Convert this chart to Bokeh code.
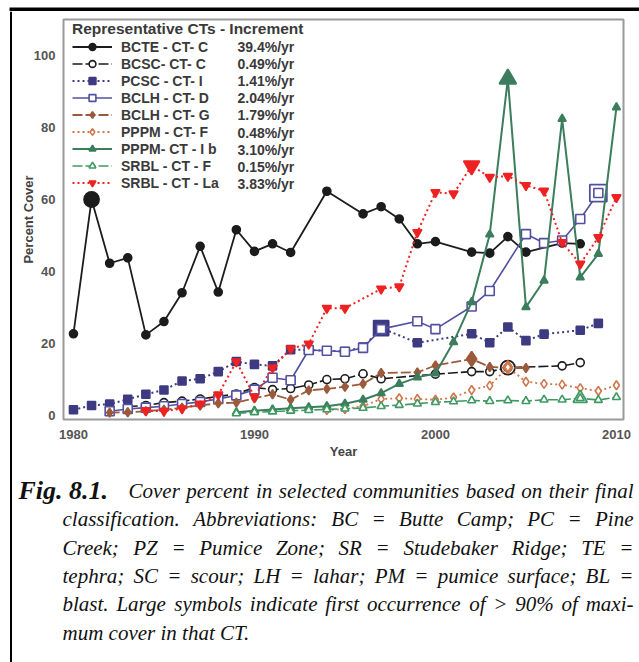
from bokeh.plotting import figure
from bokeh.models import Range1d, Legend, LegendItem, Label
from bokeh.layouts import column, row
from bokeh.core.properties import value
from bokeh.embed import file_html
from bokeh.resources import INLINE

# ---------------- data ----------------
bcte_year = [1980, 1981, 1982, 1983, 1984, 1985, 1986, 1987, 1988, 1989, 1990, 1991, 1992,
             1994, 1996, 1997, 1998, 1999, 2000, 2002, 2003, 2004, 2005, 2007, 2008]
bcte_cover = [22.7, 60.0, 42.3, 43.8, 22.4, 26.1, 34.1, 47.0, 34.3, 51.6, 45.6, 47.7, 45.3,
              62.3, 56.0, 58.0, 54.6, 47.7, 48.3, 45.4, 45.1, 49.7, 45.4, 47.9, 47.7]

bcsc_year = [1983, 1984, 1985, 1986, 1987, 1988, 1989, 1990, 1991, 1992, 1993, 1994, 1995,
             1996, 1997, 2000, 2002, 2003, 2004, 2007, 2008]
bcsc_cover = [2.5, 2.8, 3.6, 4.0, 4.6, 5.3, 6.0, 7.8, 7.2, 7.5, 8.5, 10.0, 10.2,
              11.6, 10.2, 11.5, 12.2, 12.2, 13.3, 13.8, 14.7]

pcsc_year = [1980, 1981, 1982, 1983, 1984, 1985, 1986, 1987, 1988, 1989, 1990, 1991, 1992,
             1993, 1994, 1995, 1996, 1997, 1999, 2002, 2003, 2004, 2005, 2006, 2008, 2009]
pcsc_cover = [1.6, 2.8, 3.2, 4.5, 5.9, 7.1, 9.6, 10.2, 12.2, 15.0, 14.2, 13.8, 18.3,
              18.2, 18.0, 17.8, 19.0, 24.3, 20.2, 22.7, 20.2, 24.6, 20.8, 22.6, 23.7, 25.6]

bclhd_year = [1982, 1983, 1984, 1985, 1986, 1987, 1988, 1989, 1990, 1991, 1992, 1993, 1994,
              1995, 1996, 1997, 1999, 2000, 2002, 2003, 2005, 2006, 2007, 2008, 2009]
bclhd_cover = [1.2, 1.8, 2.2, 2.6, 3.2, 3.8, 4.6, 5.6, 7.2, 10.5, 9.8, 18.2, 18.0,
               17.7, 18.8, 24.0, 26.2, 24.0, 30.3, 34.6, 50.4, 47.9, 48.6, 54.6, 61.8]

bclhg_year = [1982, 1983, 1984, 1985, 1986, 1987, 1988, 1989, 1990, 1991, 1992, 1993, 1994,
              1995, 1996, 1997, 1999, 2000, 2002, 2003, 2004, 2005]
bclhg_cover = [0.8, 0.9, 1.2, 1.6, 2.2, 2.8, 3.4, 3.6, 4.8, 5.9, 4.4, 7.0, 7.4,
               8.0, 8.8, 11.8, 12.0, 13.9, 15.7, 13.5, 13.2, 13.2]

pppmf_year = [1994, 1995, 1996, 1997, 1998, 1999, 2000, 2001, 2002, 2003, 2004, 2005, 2006,
              2007, 2008, 2009, 2010]
pppmf_cover = [1.5, 1.8, 2.6, 4.6, 4.8, 4.6, 4.4, 5.0, 7.1, 8.3, 13.4, 9.4, 8.8,
               8.6, 7.6, 6.8, 8.4]

pppmib_year = [1989, 1990, 1991, 1992, 1993, 1994, 1995, 1996, 1997, 1998, 1999, 2000, 2001,
               2002, 2003, 2004, 2005, 2006, 2007, 2008, 2009, 2010]
pppmib_cover = [0.9, 1.3, 1.7, 2.0, 2.3, 2.6, 3.3, 4.4, 6.2, 8.8, 10.6, 11.7, 20.4,
                31.5, 50.3, 93.5, 30.1, 37.5, 82.4, 38.4, 44.9, 85.6]

srblf_year = [1989, 1990, 1991, 1992, 1993, 1994, 1995, 1996, 1997, 1998, 1999, 2000, 2001,
              2002, 2003, 2004, 2005, 2006, 2007, 2008, 2009, 2010]
srblf_cover = [0.6, 0.9, 1.1, 1.3, 1.5, 1.7, 1.9, 2.1, 2.6, 2.9, 3.3, 3.7, 3.9,
               4.2, 4.0, 4.2, 4.0, 4.4, 4.4, 4.8, 4.3, 5.1]

srblla_year = [1984, 1985, 1986, 1987, 1988, 1989, 1990, 1991, 1992, 1993, 1994, 1995, 1997,
               1998, 1999, 2000, 2001, 2002, 2003, 2004, 2005, 2006, 2007, 2008, 2009, 2010]
srblla_cover = [1.4, 1.2, 1.9, 3.2, 5.8, 15.0, 5.2, 13.2, 18.6, 19.9, 29.8, 29.8, 35.2,
                35.8, 50.9, 62.0, 61.6, 69.4, 66.2, 66.5, 63.9, 62.4, 48.1, 42.1, 49.5, 60.6]

series_names = ["BCTE - CT- C", "BCSC- CT- C", "PCSC - CT- I", "BCLH - CT- D", "BCLH - CT- G",
                "PPPM - CT- F", "PPPM- CT - I b", "SRBL - CT - F", "SRBL - CT - La"]
series_rates = ["39.4%/yr", "0.49%/yr", "1.41%/yr", "2.04%/yr", "1.79%/yr",
                "0.48%/yr", "3.10%/yr", "0.15%/yr", "3.83%/yr"]
series_x = [bcte_year, bcsc_year, pcsc_year, bclhd_year, bclhg_year,
            pppmf_year, pppmib_year, srblf_year, srblla_year]
series_y = [bcte_cover, bcsc_cover, pcsc_cover, bclhd_cover, bclhg_cover,
            pppmf_cover, pppmib_cover, srblf_cover, srblla_cover]

x_ticks = [1980, 1990, 2000, 2010]
y_ticks = [0, 20, 40, 60, 80, 100]

caption_head = "Fig. 8.1."
caption_lines = [
    "Cover percent in selected communities based on their final",
    "classification.  Abbreviations:  BC = Butte Camp; PC = Pine",
    "Creek; PZ = Pumice Zone; SR = Studebaker Ridge; TE =",
    "tephra; SC = scour; LH = lahar; PM = pumice surface; BL =",
    "blast. Large symbols indicate first occurrence of > 90% of maxi-",
    "mum cover in that CT.",
]

# ---------------- styles ----------------
styles = [
    dict(color="#1c1c1c", marker="circle", fill="#1c1c1c", dash="solid", lw=1.8, size=8, big=15),
    dict(color="#1c1c1c", marker="circle", fill="white", dash="10 3", lw=1.6, size=8, big=14),
    dict(color="#3e3a82", marker="square", fill="#3e3a82", dash="2 3", lw=2.0, size=8, big=15),
    dict(color="#5250a0", marker="square", fill="white", dash="solid", lw=1.6, size=9, big=17),
    dict(color="#9c5a3c", marker="diamond", fill="#9c5a3c", dash="10 3", lw=1.8, size=9, big=15),
    dict(color="#d0764c", marker="diamond", fill="white", dash="2 3", lw=1.8, size=9, big=13),
    dict(color="#3b7d5c", marker="triangle", fill="#3b7d5c", dash="solid", lw=2.0, size=8, big=17),
    dict(color="#3f9963", marker="triangle", fill="white", dash="10 3", lw=1.6, size=8, big=14),
    dict(color="#ee2222", marker="inverted_triangle", fill="#ee2222", dash="2 3", lw=2.0, size=9, big=16),
]

W, H = 639, 662
TOP, LEFT = 11, 12                  # strips holding the surrounding box lines
FL, FR, FT, FB = 63, 623, 19, 419   # frame edges in page pixels
CH = 200                            # caption height
PH = H - TOP - CH                   # chart height
CW = W - LEFT


def strip(w, h, xr, yr):
    s = figure(width=w, height=h, output_backend="svg", toolbar_location=None,
               x_range=xr, y_range=yr, x_axis_type=None, y_axis_type=None, min_border=0)
    s.outline_line_color = None
    s.xgrid.visible = False
    s.ygrid.visible = False
    s.background_fill_color = "white"
    s.border_fill_color = "white"
    s.frame_align = False
    return s


top_strip = strip(W, TOP, Range1d(0, W), Range1d(TOP, 0))
top_strip.quad(left=[9], right=[W], top=[6], bottom=[10], fill_color="black", line_color=None)
left_strip = strip(LEFT, H - TOP, Range1d(0, LEFT), Range1d(H, TOP))
left_strip.quad(left=[9.5], right=[12], top=[TOP], bottom=[H], fill_color="black", line_color=None)

p = figure(width=CW, height=PH, output_backend="svg", toolbar_location=None,
           x_range=Range1d(1979.45, 2010.39), y_range=Range1d(-1.1, 110),
           min_border_left=FL - LEFT, min_border_right=W - FR,
           min_border_top=FT - TOP, min_border_bottom=TOP + PH - FB)
p.frame_align = False
p.background_fill_color = "white"
p.border_fill_color = "white"
p.outline_line_color = "#9a9a9a"
p.outline_line_width = 2
p.xgrid.visible = False
p.ygrid.visible = False

for ax in (p.xaxis, p.yaxis):
    ax.axis_line_color = None
    ax.major_tick_line_color = None
    ax.minor_tick_line_color = None
    ax.major_tick_out = 0
    ax.major_tick_in = 0
    ax.major_label_text_font = "Liberation Sans"
    ax.major_label_text_font_style = "bold"
    ax.major_label_text_font_size = "13px"
    ax.major_label_text_color = "#555555"
    ax.axis_label_text_font = "Liberation Sans"
    ax.axis_label_text_font_style = "bold"
    ax.axis_label_text_font_size = "13px"
    ax.axis_label_text_color = "#444444"
p.xaxis.ticker = x_ticks
p.yaxis.ticker = y_ticks
p.xaxis.axis_label = "Year"
p.yaxis.axis_label = "Percent Cover"
p.xaxis.major_label_standoff = 10
p.xaxis.axis_label_standoff = 2
p.yaxis.major_label_standoff = 8
p.yaxis.axis_label_standoff = -5

items = []
for name, xs, ys, st in zip(series_names, series_x, series_y, styles):
    thr = 0.9 * max(ys)
    k = next(i for i, v in enumerate(ys) if v >= thr)
    ln = p.line(xs, ys, line_color=st["color"], line_width=st["lw"], line_dash=st["dash"])
    p.scatter([xs[k]], [ys[k]], marker=st["marker"], size=st["big"], fill_color=st["fill"],
              line_color=st["color"], line_width=1.8)
    sc = p.scatter(xs, ys, marker=st["marker"], size=st["size"], fill_color=st["fill"],
                   line_color=st["color"], line_width=1.6)
    items.append(LegendItem(label=name, renderers=[ln, sc]))

legend = Legend(items=items, location=(9, 228),
                title="Representative CTs - Increment",
                title_text_font="Liberation Sans", title_text_font_style="bold",
                title_text_font_size="15.5px", title_text_color="#3a3a3a", title_standoff=0,
                label_text_font="Liberation Sans", label_text_font_style="bold",
                label_text_font_size="14px", label_text_color="#3a3a3a",
                glyph_width=40, glyph_height=17, label_height=17, label_standoff=9,
                spacing=0, padding=5, margin=0,
                border_line_color=None, background_fill_alpha=0)
p.add_layout(legend)

for i, r in enumerate(series_rates):
    p.add_layout(Label(x=237 - FL, y=FB - (46.5 + 17.1 * i), x_units="screen", y_units="screen",
                       text=r, text_font="Liberation Sans", text_font_style="bold",
                       text_font_size="14px", text_color="#3a3a3a", text_baseline="middle"))

# ---------------- caption (justified with approximate Times-Italic advance widths) ----------------
ITALIC_W = {
    " ": 250, "a": 500, "b": 500, "c": 444, "d": 500, "e": 444, "f": 278, "g": 500, "h": 500,
    "i": 278, "j": 278, "k": 444, "l": 278, "m": 722, "n": 500, "o": 500, "p": 500, "q": 500,
    "r": 389, "s": 389, "t": 278, "u": 500, "v": 444, "w": 667, "x": 444, "y": 444, "z": 389,
    "A": 611, "B": 611, "C": 667, "D": 722, "E": 611, "F": 611, "G": 722, "H": 722, "I": 333,
    "J": 444, "K": 667, "L": 556, "M": 833, "N": 667, "O": 722, "P": 611, "Q": 722, "R": 611,
    "S": 500, "T": 556, "U": 722, "V": 611, "W": 833, "X": 611, "Y": 556, "Z": 556,
    ".": 250, ",": 250, ";": 333, ":": 333, "=": 675, ">": 675, "%": 833, "-": 333,
}
FS = 21


def text_w(s):
    return sum(ITALIC_W.get(ch, 500) for ch in s) * FS / 1000.0


cap = strip(CW, CH, Range1d(LEFT, W), Range1d(H, H - CH))
baselines = [490, 518, 547, 575, 603, 632]
starts = [128, 62, 62, 62, 62, 62]
right_edge = 633
cap.text(x=[18], y=[baselines[0]], text=[caption_head], text_font=value("Liberation Serif"),
         text_font_style="bold italic", text_font_size="26px", text_color="#111111",
         text_baseline="alphabetic")

wx, wy, wt = [], [], []
for i, line in enumerate(caption_lines):
    if i == len(caption_lines) - 1:
        wx.append(starts[i]); wy.append(baselines[i]); wt.append(line)
        continue
    words = line.split()
    widths = [text_w(w) for w in words]
    gap = (right_edge - starts[i] - sum(widths)) / (len(words) - 1)
    x = starts[i]
    for w, ww in zip(words, widths):
        wx.append(x); wy.append(baselines[i]); wt.append(w)
        x += ww + gap
cap.text(x=wx, y=wy, text=wt, text_font=value("Liberation Serif"), text_font_style="italic",
         text_font_size="%dpx" % FS, text_color="#111111", text_baseline="alphabetic")

layout = column(top_strip, row(left_strip, column(p, cap)))
open("out.html", "w").write(file_html(layout, INLINE))
